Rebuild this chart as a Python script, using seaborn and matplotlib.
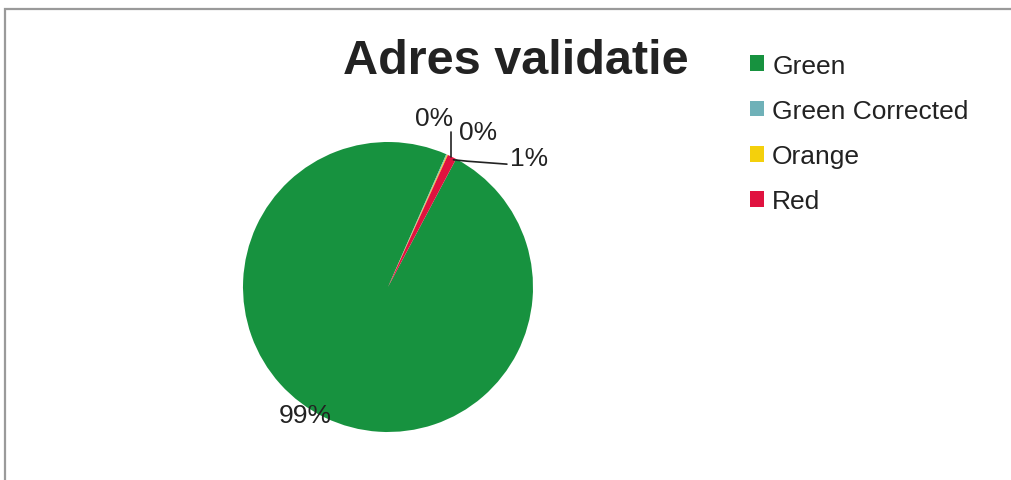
import numpy as np
import matplotlib
matplotlib.use("Agg")
import matplotlib.pyplot as plt
import seaborn as sns
from matplotlib.patches import Rectangle

# data
categories = ["Green", "Green Corrected", "Orange", "Red"]
values = [98.8, 0.1, 0.1, 1.0]
colors = ["#17923f", "#6fb1b8", "#f4d00c", "#e0123f"]

sns.set_theme(style="white")
plt.rcParams["font.family"] = ["Liberation Sans", "DejaVu Sans"]

fig = plt.figure(figsize=(10.11, 4.81), dpi=100)
W, H = 1011, 481

# scanned frame (left and top edges)
fig.add_artist(Rectangle((5 / W, -0.1), 1.2, (481 - 10) / H + 0.1,
                         transform=fig.transFigure, fill=False,
                         edgecolor="#9a9a9a", linewidth=1.6))

# pie axes: center (388, 288) px, radius 145 px
cx, cy, r = 388, 288, 145
ax = fig.add_axes([(cx - r) / W, (H - cy - r) / H, 2 * r / W, 2 * r / H])
wedges, _ = ax.pie(values, colors=colors, startangle=62, counterclock=False,
                   radius=1.0, wedgeprops=dict(linewidth=0))
ax.set_xlim(-1, 1)
ax.set_ylim(-1, 1)
ax.set_aspect("equal")
ax.axis("off")

def edge_point(w, rad=1.0):
    mid = np.deg2rad((w.theta1 + w.theta2) / 2)
    return rad * np.cos(mid), rad * np.sin(mid)

pct = [f"{round(v):.0f}%" for v in values]
tc = "#222222"
fs = 19

# 99% label
ax.text(-0.57, -0.88, pct[0], fontsize=fs, color=tc, ha="center", va="center")

# Green Corrected: vertical leader
x0, y0 = edge_point(wedges[1])
ax.plot([x0 + 0.03, x0 + 0.03], [y0 - 0.02, 1.07], color=tc, lw=1.2, clip_on=False)
ax.text(x0 + 0.045, 1.08, pct[1], fontsize=fs, color=tc, ha="right", va="bottom")
# Orange
ax.text(0.62, 1.07, pct[2], fontsize=fs, color=tc, ha="center", va="center")
# Red: horizontal leader
x2, y2 = edge_point(wedges[3])
ax.plot([x2 + 0.01, 0.55, 0.82], [y2 - 0.02, y2 - 0.03, y2 - 0.05],
        color=tc, lw=1.2, clip_on=False)
ax.text(0.84, 0.89, pct[3], fontsize=fs, color=tc, ha="left", va="center")

# title
fig.text(516 / W, 1 - 62 / H, "Adres validatie", fontsize=35, fontweight="bold",
         color="#222222", ha="center", va="center")

# legend
handles = [Rectangle((0, 0), 1, 1, facecolor=c, edgecolor="none") for c in colors]
fig.legend(handles, categories, loc="upper left", bbox_to_anchor=(726 / W, 1 - 31 / H),
           frameon=False, fontsize=19, handlelength=0.55, handleheight=0.55,
           handletextpad=0.3, labelspacing=0.8, labelcolor="#222222")

fig.savefig("out.png", dpi=100)
